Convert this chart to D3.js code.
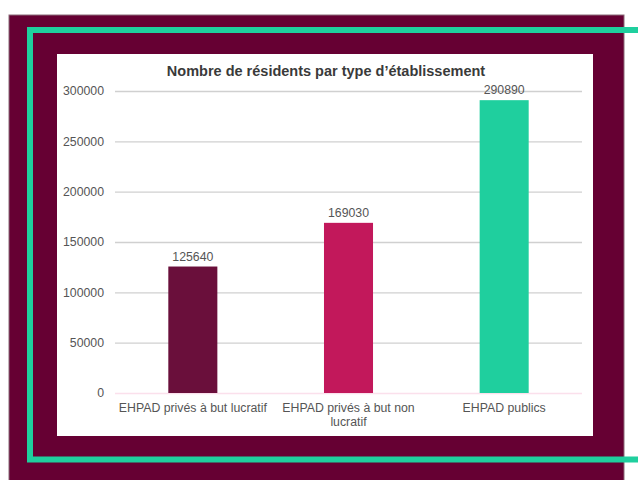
<!DOCTYPE html>
<html>
<head>
<meta charset="utf-8">
<script src="https://cdn.jsdelivr.net/npm/d3@7"></script>
<style>
  body { margin: 0; background: #fff; }
  svg { display: block; font-family: "Liberation Sans", Arial, sans-serif; }
</style>
</head>
<body>
<svg id="chart" width="638" height="480"></svg>
<script>
var categories = ["EHPAD privés à but lucratif", "EHPAD privés à but non lucratif", "EHPAD publics"];
var residents = [125640, 169030, 290890];
var barColors = ["#6a0f3b", "#c2185b", "#1fcf9e"];
var yTicks = [0, 50000, 100000, 150000, 200000, 250000, 300000];

var width = 638, height = 480;
var svg = d3.select("#chart");

// decorative frame
svg.append("rect").attr("x", 9).attr("y", 15).attr("width", 615).attr("height", 470)
  .attr("fill", "#660033").attr("stroke", "#8a6a78").attr("stroke-width", 1);
svg.append("path")
  .attr("d", "M638,30 H30 V459.5 H638")
  .attr("fill", "none").attr("stroke", "#1fcf9e").attr("stroke-width", 6);
svg.append("rect").attr("x", 57).attr("y", 54).attr("width", 536).attr("height", 382)
  .attr("fill", "#fff");

var margin = {top: 91, right: 56, bottom: 87, left: 115};

var x = d3.scaleBand()
    .domain(categories)
    .range([margin.left, width - margin.right])
    .paddingInner(0.685)
    .paddingOuter(0.3425);

var y = d3.scaleLinear()
    .domain([0, 300000])
    .range([height - margin.bottom, margin.top]);

svg.append("text")
  .attr("x", 326).attr("y", 76)
  .attr("text-anchor", "middle")
  .attr("font-size", 14.5).attr("font-weight", "bold").attr("fill", "#3a3a3a")
  .text("Nombre de résidents par type d\u2019établissement");

var yAxis = g => g
    .attr("transform", `translate(${margin.left},0)`)
    .call(d3.axisLeft(y).tickValues(yTicks).tickFormat(d3.format("d"))
      .tickSize(-(width - margin.right - margin.left)).tickPadding(11))
    .call(g => g.select(".domain").remove())
    .call(g => g.selectAll(".tick line").attr("stroke", d => d === 0 ? "#fbe0ec" : "#d0d0d0").attr("stroke-width", 1.3))
    .call(g => g.selectAll(".tick text").attr("fill", "#555").attr("font-size", 12.3)
      .attr("font-family", "Liberation Sans, Arial, sans-serif"));

svg.append("g").call(yAxis);

var data = categories.map((c, i) => ({cat: c, value: residents[i], color: barColors[i]}));

svg.append("g")
  .selectAll("rect").data(data).enter().append("rect")
    .attr("x", d => x(d.cat))
    .attr("y", d => y(d.value))
    .attr("width", x.bandwidth())
    .attr("height", d => y(0) - y(d.value))
    .attr("fill", d => d.color);

svg.append("g")
  .selectAll("text").data(data).enter().append("text")
    .attr("x", d => x(d.cat) + x.bandwidth() / 2)
    .attr("y", d => y(d.value) - 6)
    .attr("text-anchor", "middle")
    .attr("font-size", 12.3).attr("fill", "#555")
    .text(d => d.value);

function wrap(text, w) {
  text.each(function() {
    var text = d3.select(this),
        words = text.text().split(/\s+/).reverse(),
        word,
        line = [],
        lineNumber = 0,
        lineHeight = 1.2,
        yy = text.attr("y"),
        dy = parseFloat(text.attr("dy")),
        tspan = text.text(null).append("tspan").attr("x", 0).attr("y", yy).attr("dy", dy + "em");
    while (word = words.pop()) {
      line.push(word);
      tspan.text(line.join(" "));
      if (tspan.node().getComputedTextLength() > w) {
        line.pop();
        tspan.text(line.join(" "));
        line = [word];
        tspan = text.append("tspan").attr("x", 0).attr("y", yy).attr("dy", ++lineNumber * lineHeight + dy + "em").text(word);
      }
    }
  });
}

var xAxis = g => g
  .attr("transform", `translate(0,${height - margin.bottom})`)
  .call(d3.axisBottom(x).tickSize(0).tickPadding(10))
  .call(g => g.select(".domain").remove())
  .call(g => g.selectAll(".tick text").attr("fill", "#555").attr("font-size", 12.3)
    .attr("font-family", "Liberation Sans, Arial, sans-serif")
    .call(wrap, 152));

svg.append("g").call(xAxis);
</script>
</body>
</html>
